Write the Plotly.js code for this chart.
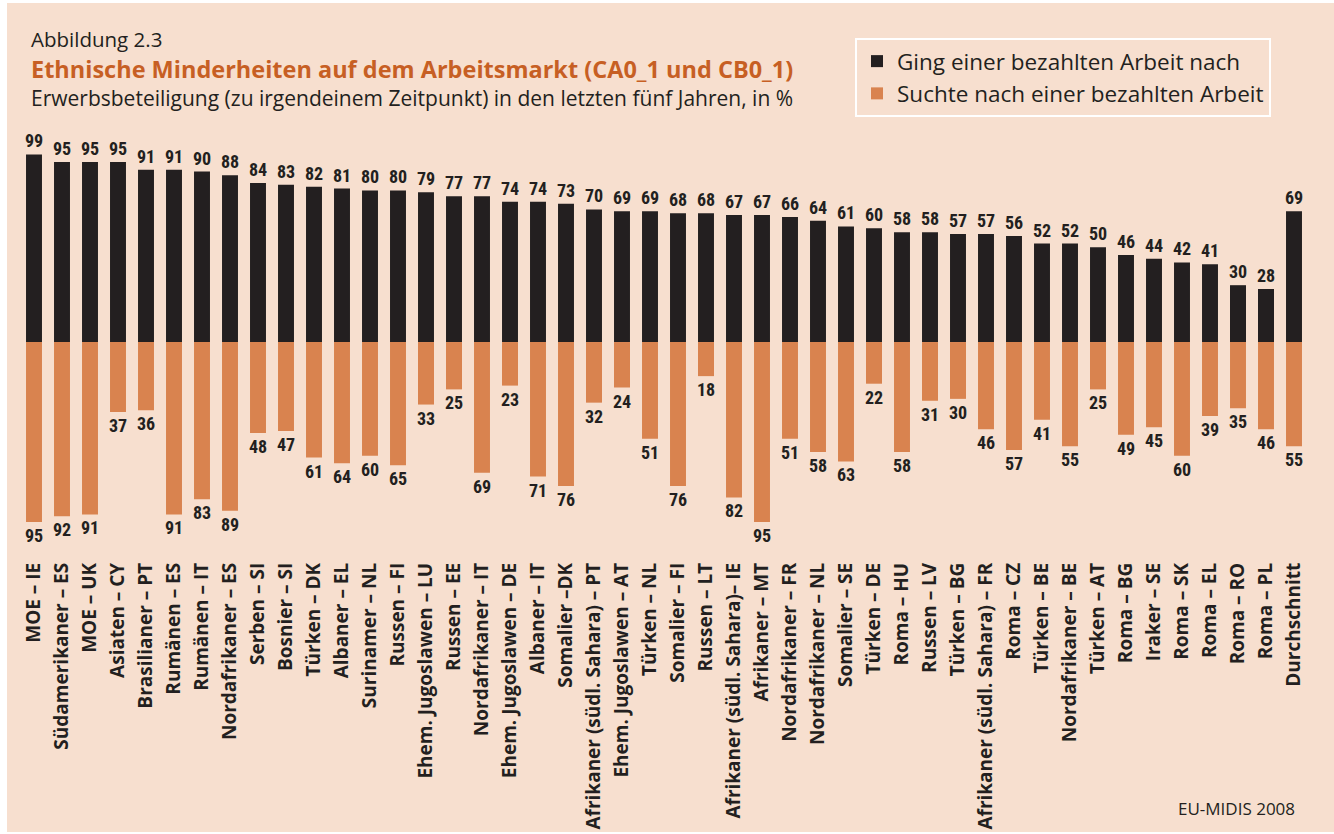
<!DOCTYPE html>
<html><head><meta charset="utf-8">
<script src="https://cdn.plot.ly/plotly-3.0.1.min.js"></script>
<style>
html,body{margin:0;padding:0;background:#ffffff;}
#chart{position:absolute;left:7px;top:3px;width:1327px;height:829px;}
</style></head>
<body><div id="chart"></div>
<script>
const categories = [
"MOE – IE","Südamerikaner – ES","MOE – UK","Asiaten – CY","Brasilianer – PT","Rumänen – ES","Rumänen – IT","Nordafrikaner – ES",
"Serben – SI","Bosnier – SI","Türken – DK","Albaner – EL","Surinamer – NL","Russen – FI","Ehem. Jugoslawen – LU","Russen – EE",
"Nordafrikaner – IT","Ehem. Jugoslawen – DE","Albaner – IT","Somalier –DK","Afrikaner (südl. Sahara) – PT","Ehem. Jugoslawen – AT",
"Türken – NL","Somalier – FI","Russen – LT","Afrikaner (südl. Sahara)– IE","Afrikaner – MT","Nordafrikaner – FR","Nordafrikaner – NL",
"Somalier – SE","Türken – DE","Roma – HU","Russen – LV","Türken – BG","Afrikaner (südl. Sahara) – FR","Roma – CZ","Türken – BE",
"Nordafrikaner – BE","Türken – AT","Roma – BG","Iraker – SE","Roma – SK","Roma – EL","Roma – RO","Roma – PL","Durchschnitt"
];
const gingArbeit = [99,95,95,95,91,91,90,88,84,83,82,81,80,80,79,77,77,74,74,73,70,69,69,68,68,67,67,66,64,61,60,58,58,57,57,56,52,52,50,46,44,42,41,30,28,69];
const suchteArbeit = [95,92,91,37,36,91,83,89,48,47,61,64,60,65,33,25,69,23,71,76,32,24,51,76,18,82,95,51,58,63,22,58,31,30,46,57,41,55,25,49,45,60,39,35,46,55];
const seriesNames = ["Ging einer bezahlten Arbeit nach","Suchte nach einer bezahlten Arbeit"];

const W = 1327, H = 829;
const M = {l:13, r:26, t:142, b:274};
const pw = W - M.l - M.r, ph = H - M.t - M.b;
const px = x => (x - M.l) / pw;           // div pixel -> paper x
const py = y => (H - M.b - y) / ph;       // div pixel -> paper y

const numFont = {family:"Roboto Condensed, Roboto, sans-serif", size:18, color:"#231f20", weight:700};

const traces = [
  {type:"bar", name:seriesNames[0], x:categories, y:gingArbeit,
   text:gingArbeit.map(String), textposition:"outside", textangle:0, constraintext:"none", cliponaxis:false,
   textfont:numFont, marker:{color:"#231f20", line:{width:0}}, hoverinfo:"x+y", legendgroup:"a"},
  {type:"bar", name:seriesNames[1], x:categories, y:suchteArbeit.map(v => -v),
   text:suchteArbeit.map(String), textposition:"outside", textangle:0, constraintext:"none", cliponaxis:false,
   textfont:numFont, marker:{color:"#d9834f", line:{width:0}}, hoverinfo:"x+text", legendgroup:"b"}
];

const layout = {
  width:W, height:H,
  margin:M,
  paper_bgcolor:"#f7dfcf", plot_bgcolor:"rgba(0,0,0,0)",
  barmode:"relative", bargap:0.43,
  showlegend:true,
  legend:{x:px(848), y:py(35), xanchor:"left", yanchor:"top", bgcolor:"rgba(0,0,0,0)",
          bordercolor:"#ffffff", borderwidth:2, font:{family:"Open Sans, sans-serif", size:22.5, color:"#231f20"},
          tracegroupgap:2, traceorder:"normal"},
  xaxis:{type:"category", range:[-0.5, categories.length-0.5], tickangle:-90, showgrid:false, zeroline:false,
         showline:false, ticks:"", automargin:false,
         tickfont:{family:"Open Sans, sans-serif", size:19, color:"#231f20", weight:700}},
  yaxis:{range:[-114, 104], visible:false, showgrid:false, zeroline:false, fixedrange:true},
  annotations:[
    {xref:"paper", yref:"paper", x:px(22), y:py(36), xanchor:"left", yanchor:"middle", showarrow:false,
     text:"Abbildung 2.3", font:{family:"Open Sans, sans-serif", size:20.5, color:"#231f20"}},
    {xref:"paper", yref:"paper", x:px(22), y:py(66), xanchor:"left", yanchor:"middle", showarrow:false,
     text:"<b>Ethnische Minderheiten auf dem Arbeitsmarkt (CA0_1 und CB0_1)</b>", font:{family:"Open Sans, sans-serif", size:23.5, color:"#c75f24"}},
    {xref:"paper", yref:"paper", x:px(22), y:py(95), xanchor:"left", yanchor:"middle", showarrow:false,
     text:"Erwerbsbeteiligung (zu irgendeinem Zeitpunkt) in den letzten fünf Jahren, in %", font:{family:"Open Sans, sans-serif", size:21, color:"#231f20"}},
    {xref:"paper", yref:"paper", x:px(1290), y:py(805), xanchor:"right", yanchor:"middle", showarrow:false,
     text:"EU-MIDIS 2008", font:{family:"Open Sans, sans-serif", size:17, color:"#231f20"}}
  ]
};
Plotly.newPlot("chart", traces, layout, {displayModeBar:false, staticPlot:true});
</script></body></html>
